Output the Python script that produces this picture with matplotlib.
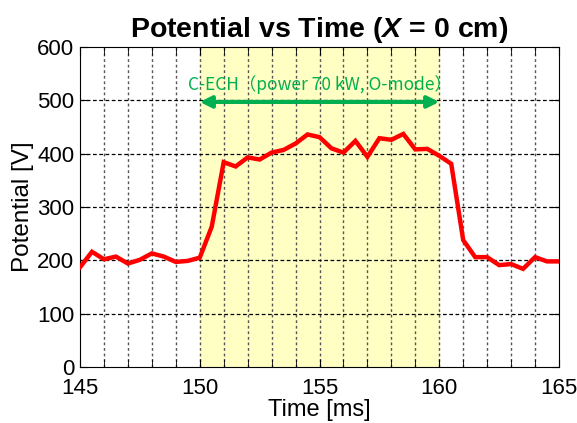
import matplotlib
matplotlib.use("Agg")
import matplotlib.pyplot as plt

time_ms = [145.0, 145.5, 146.0, 146.5, 147.0, 147.5, 148.0, 148.5, 149.0, 149.5,
           150.0, 150.5, 151.0, 151.5, 152.0, 152.5, 153.0, 153.5, 154.0, 154.5,
           155.0, 155.5, 156.0, 156.5, 157.0, 157.5, 158.0, 158.5, 159.0, 159.5,
           160.0, 160.5, 161.0, 161.5, 162.0, 162.5, 163.0, 163.5, 164.0, 164.5, 165.0]
potential_v = [187, 216, 202, 207, 194, 201, 213, 207, 197, 199,
               205, 263, 384, 376, 393, 389, 402, 407, 419, 436,
               431, 410, 402, 424, 394, 429, 426, 437, 408, 409,
               396, 381, 238, 206, 206, 191, 193, 184, 206, 198, 198]

ech_start, ech_end = 150, 160
ech_label = "C-ECH（power 70 kW, O-mode）"
x_ticks = [145, 150, 155, 160, 165]
y_ticks = [0, 100, 200, 300, 400, 500, 600]

plt.rcParams['font.family'] = ['Liberation Sans', 'DejaVu Sans']
plt.rcParams['mathtext.fontset'] = 'custom'
plt.rcParams['mathtext.rm'] = 'Liberation Sans'
plt.rcParams['mathtext.it'] = 'Liberation Sans:italic'
plt.rcParams['mathtext.bf'] = 'Liberation Sans:bold'
plt.rcParams['mathtext.bfit'] = 'Liberation Sans:italic:bold'

fig = plt.figure(figsize=(5.77, 4.23), dpi=100)
ax = fig.add_axes([80/577, 1-367/423, (559-80)/577, (367-47)/423])

ax.axvspan(ech_start, ech_end, color='#FFFFC4', zorder=0)

for x in range(146, 165):
    ax.axvline(x, color='#555555', lw=1.0, ls=(0, (2, 2)), zorder=1)
for y in [100, 200, 300, 400, 500]:
    ax.axhline(y, color='black', lw=0.9, ls=(0, (3, 2)), zorder=1)

ax.plot(time_ms, potential_v, color='#FF0000', lw=3.2, zorder=3,
        solid_joinstyle='miter')

ax.annotate('', xy=(ech_start, 497), xytext=(ech_end, 497),
            arrowprops=dict(arrowstyle='<|-|>', color='#00B050', lw=3,
                            mutation_scale=17, shrinkA=0, shrinkB=0), zorder=4)
ax.text((ech_start + ech_end) / 2, 529, ech_label, color='#00B050',
        ha='center', va='center', fontsize=12.5,
        family=['Noto Sans CJK JP', 'DejaVu Sans'], zorder=4)

ax.set_xlim(145, 165)
ax.set_ylim(0, 600)
ax.set_xticks(x_ticks)
ax.set_xticks(range(145, 166), minor=True)
ax.set_yticks(y_ticks)
ax.tick_params(axis='both', which='both', direction='in', top=True, right=True,
               labelsize=16)
ax.tick_params(axis='both', which='major', length=6)
ax.tick_params(axis='both', which='minor', length=6)
ax.tick_params(axis='x', pad=8)
ax.tick_params(axis='y', pad=4)

ax.set_xlabel('Time [ms]', fontsize=17, labelpad=0)
ax.set_ylabel('Potential [V]', fontsize=17.5, labelpad=2)
ax.set_title(r'Potential vs Time ($\boldsymbol{X}$ = 0 cm)', fontsize=20.5,
             fontweight='bold', pad=7)

fig.savefig('out.png', dpi=100)
